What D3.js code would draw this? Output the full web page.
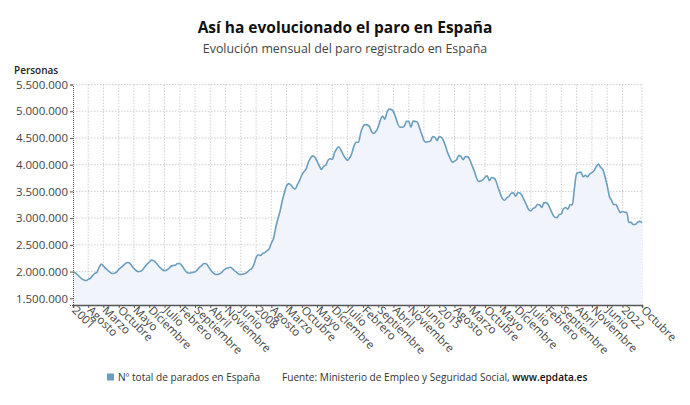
<!DOCTYPE html>
<html>
<head>
<meta charset="utf-8">
<script src="https://cdn.jsdelivr.net/npm/d3@7"></script>
<style>
  body { margin: 0; background: #fff; }
  svg { display: block; font-family: "Open Sans", sans-serif; }
</style>
</head>
<body>
<svg id="chart" width="690" height="405"></svg>
<script>
// ---- DATA (thousands of people, monthly, Jan 2001 – Oct 2022) ----
const startMonth = "2001-01";
const values2001 = [1990,1980,1945,1905,1870,1845,1832,1855,1875,1925,1965,1985];
const values2002 = [2080,2140,2105,2060,2025,1990,1965,1970,1990,2040,2075,2110];
const values2003 = [2150,2170,2160,2110,2060,2020,1998,2005,2035,2090,2140,2175];
const values2004 = [2215,2205,2170,2120,2075,2035,2018,2030,2060,2100,2115,2125];
const values2005 = [2150,2145,2110,2050,1995,1975,1975,1985,1995,2030,2080,2110];
const values2006 = [2150,2145,2105,2040,1990,1955,1945,1955,1975,2020,2050,2065];
const values2007 = [2080,2060,2020,1990,1955,1945,1955,1965,1990,2030,2060,2130];
const values2008 = [2260,2315,2300,2340,2355,2390,2425,2530,2625,2820,2990,3130];
const values2009 = [3330,3480,3605,3645,3620,3565,3545,3630,3710,3810,3870,3925];
const values2010 = [4050,4130,4165,4140,4065,3980,3910,3970,3990,4085,4110,4100];
const values2011 = [4230,4300,4335,4270,4190,4120,4080,4130,4225,4360,4420,4420];
const values2012 = [4600,4710,4750,4745,4715,4615,4585,4625,4705,4835,4910,4850];
const values2013 = [4980,5040,5035,4990,4890,4765,4700,4700,4725,4810,4810,4700];
const values2014 = [4815,4810,4795,4685,4570,4450,4420,4430,4445,4525,4510,4450];
const values2015 = [4525,4510,4450,4335,4215,4120,4045,4065,4095,4175,4150,4095];
const values2016 = [4150,4150,4095,3990,3890,3765,3685,3695,3720,3765,3790,3700];
const values2017 = [3760,3750,3700,3575,3460,3365,3335,3380,3410,3465,3475,3410];
const values2018 = [3475,3470,3420,3335,3250,3160,3135,3180,3200,3255,3250,3200];
const values2019 = [3285,3290,3255,3165,3080,3015,3010,3065,3080,3175,3200,3165];
const values2020 = [3255,3245,3550,3830,3855,3860,3775,3800,3775,3825,3850,3890];
const values2021 = [3965,4010,3950,3910,3780,3615,3415,3335,3255,3255,3180,3105];
const values2022 = [3125,3110,3110,2920,2920,2880,2885,2925,2940,2915];

const xTickMonths = ["2001-01","2001-08","2002-03","2002-10","2003-05","2003-12","2004-07","2005-02",
  "2005-09","2006-04","2006-11","2007-06","2008-01","2008-08","2009-03","2009-10","2010-05","2010-12",
  "2011-07","2012-02","2012-09","2013-04","2013-11","2014-06","2015-01","2015-08","2016-03","2016-10",
  "2017-05","2017-12","2018-07","2019-02","2019-09","2020-04","2020-11","2021-06","2022-01","2022-10"];
const xTickLabels = ["2001","Agosto","Marzo","Octubre","Mayo","Diciembre","Julio","Febrero",
  "Septiembre","Abril","Noviembre","Junio","2008","Agosto","Marzo","Octubre","Mayo","Diciembre",
  "Julio","Febrero","Septiembre","Abril","Noviembre","Junio","2015","Agosto","Marzo","Octubre",
  "Mayo","Diciembre","Julio","Febrero","Septiembre","Abril","Noviembre","Junio","2022","Octubre"];
const yTickValues = [1500000,2000000,2500000,3000000,3500000,4000000,4500000,5000000,5500000];
const yDomain = [1375000, 5500000];

const title = "Así ha evolucionado el paro en España";
const subtitle = "Evolución mensual del paro registrado en España";
const yAxisTitle = "Personas";
const seriesName = "Nº total de parados en España";
const sourceText = "Fuente: Ministerio de Empleo y Seguridad Social, ";
const sourceLink = "www.epdata.es";

// ---- BUILD ----
const allValues = [].concat(values2001,values2002,values2003,values2004,values2005,values2006,values2007,
  values2008,values2009,values2010,values2011,values2012,values2013,values2014,values2015,values2016,
  values2017,values2018,values2019,values2020,values2021,values2022);
const parseMonth = d3.timeParse("%Y-%m");
const start = parseMonth(startMonth);
const data = allValues.map((v, i) => ({ date: d3.timeMonth.offset(start, i), value: v * 1000 }));

const svg = d3.select("#chart");
const plotLeft = 73, plotRight = 642, plotTop = 84.5, plotBottom = 305;

const x = d3.scaleTime().domain(d3.extent(data, d => d.date)).range([plotLeft, plotRight]);
const y = d3.scaleLinear().domain(yDomain).range([plotBottom, plotTop]);

const lineColor = "#6a9ec0";
const fillColor = "#f1f5fb";
const gridColor = "#cfcfcf";
const textColor = "#444";

// titles
svg.append("text").attr("x", 345).attr("y", 33).attr("text-anchor", "middle")
  .attr("font-size", 15.5).attr("font-weight", 700).attr("fill", "#111").text(title);
svg.append("text").attr("x", 345).attr("y", 53).attr("text-anchor", "middle")
  .attr("font-size", 12.4).attr("fill", "#444").text(subtitle);
svg.append("text").attr("x", 14).attr("y", 74)
  .attr("font-size", 10).attr("font-weight", 600).attr("fill", "#222").text(yAxisTitle);

const xTickDates = xTickMonths.map(parseMonth);

// grid
const grid = svg.append("g");
grid.selectAll("line.h").data(yTickValues).join("line")
  .attr("x1", plotLeft).attr("x2", plotRight).attr("y1", d => y(d)).attr("y2", d => y(d))
  .attr("stroke", gridColor).attr("stroke-width", 1).attr("stroke-dasharray", "1.5,1.5");
grid.selectAll("line.v").data(xTickDates.slice(1)).join("line")
  .attr("x1", d => x(d)).attr("x2", d => x(d)).attr("y1", plotTop).attr("y2", plotBottom)
  .attr("stroke", gridColor).attr("stroke-width", 1).attr("stroke-dasharray", "1.5,1.5");

// area + line
const area = d3.area().x(d => x(d.date)).y0(plotBottom).y1(d => y(d.value)).curve(d3.curveMonotoneX);
const line = d3.line().x(d => x(d.date)).y(d => y(d.value)).curve(d3.curveMonotoneX);
svg.append("path").datum(data).attr("d", area).attr("fill", fillColor);
svg.append("path").datum(data).attr("d", line).attr("fill", "none")
  .attr("stroke", lineColor).attr("stroke-width", 1.6).attr("stroke-linejoin", "round");

// y axis
const yAxis = d3.axisLeft(y).tickValues(yTickValues).tickSize(3)
  .tickFormat(d => d3.format(",")(d).replace(/,/g, "."));
const gy = svg.append("g").attr("transform", `translate(${plotLeft},0)`).call(yAxis);
gy.select(".domain").attr("stroke", "#555").attr("stroke-dasharray", "1,1");
gy.selectAll(".tick line").attr("stroke", "#555");
gy.selectAll(".tick text").attr("font-size", 11.5).attr("fill", textColor)
  .attr("font-family", "Open Sans, sans-serif").attr("x", -5);

// x axis
const xAxis = d3.axisBottom(x).tickValues(xTickDates).tickSize(3)
  .tickFormat((d, i) => xTickLabels[i]);
const gx = svg.append("g").attr("transform", `translate(0,${plotBottom})`).call(xAxis);
gx.select(".domain").attr("stroke", "#555").attr("stroke-width", 1.5);
gx.selectAll(".tick line").attr("stroke", "#555");
gx.selectAll(".tick text").attr("font-size", 11.5).attr("fill", textColor)
  .attr("font-family", "Open Sans, sans-serif")
  .attr("text-anchor", "start").attr("dy", 0).attr("y", 0)
  .attr("transform", "translate(-2,6) rotate(45)");

// legend
const lg = svg.append("g");
lg.append("rect").attr("x", 107).attr("y", 373.5).attr("width", 7).attr("height", 7).attr("fill", lineColor);
lg.append("text").attr("x", 118).attr("y", 381).attr("font-size", 10.1).attr("fill", "#333").text(seriesName);
const src = lg.append("text").attr("x", 282).attr("y", 381).attr("font-size", 10.1).attr("fill", "#333");
src.append("tspan").text(sourceText);
src.append("tspan").attr("font-weight", 600).attr("fill", "#111").text(sourceLink);
</script>
</body>
</html>
